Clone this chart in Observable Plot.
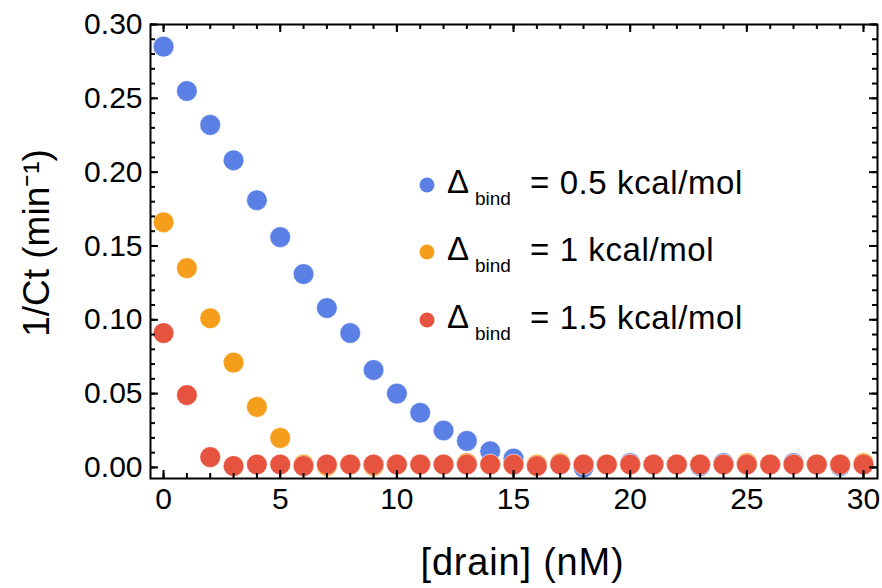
<!DOCTYPE html>
<html><head><meta charset="utf-8">
<script src="https://cdn.jsdelivr.net/npm/d3@7"></script>
<script src="https://cdn.jsdelivr.net/npm/@observablehq/plot@0.6"></script>
<style>
body{margin:0;background:#fff;}
#wrap{position:relative;width:882px;height:588px;}
</style></head><body><div id="wrap"></div>
<script>
const drain = d3.range(0, 31);
const seriesNames = ["0.5", "1", "1.5"];
const seriesColors = ["#5A80E6", "#F59E1C", "#E6533F"];
const blue = [0.285,0.255,0.232,0.208,0.181,0.156,0.131,0.108,0.091,0.066,0.050,0.037,0.025,0.018,0.011,0.006,
  0.001,0.002,0.000,0.002,0.003,0.002,0.002,0.001,0.003,0.002,0.002,0.003,0.002,0.001,0.002];
const orange = [0.166,0.135,0.101,0.071,0.041,0.020,0.002,0.001,0.002,0.001,0.002,0.002,0.002,0.003,0.002,0.002,
  0.002,0.003,0.002,0.002,0.002,0.002,0.002,0.002,0.002,0.003,0.002,0.002,0.002,0.002,0.003];
const red = [0.091,0.049,0.007,0.001,0.002,0.002,0.001,0.002,0.002,0.002,0.002,0.002,0.002,0.002,0.002,0.002,
  0.001,0.002,0.002,0.002,0.002,0.002,0.002,0.002,0.002,0.002,0.002,0.002,0.002,0.002,0.002];
const xMajor = [0,5,10,15,20,25,30];
const xMinor = d3.range(0, 31);
const yMajor = [0,0.05,0.10,0.15,0.20,0.25,0.30];
const yMinor = d3.range(0, 31).map(d => d / 100);
const xLabel = "[drain] (nM)";
const yLabel = "1/Ct (min\u207B\u00B9)";

const values = [blue, orange, red];
const data = [];
values.forEach((arr, s) => arr.forEach((v, i) => data.push({x: drain[i], y: v, s: seriesNames[s]})));

const W = 882, H = 588, mL = 150, mR = 5, mT = 24, mB = 110;
const fw = W - mL - mR, fh = H - mT - mB;
const font = "'Liberation Sans', Arial, Helvetica, sans-serif";
const tickStyle = {stroke: "#000", strokeWidth: 2};
const plot = Plot.plot({
  width: W, height: H,
  marginLeft: mL, marginRight: mR, marginTop: mT, marginBottom: mB,
  style: {fontFamily: font, color: "#000", background: "#fff", overflow: "visible"},
  x: {domain: [-0.56, 30.6]},
  y: {domain: [-0.0075, 0.30]},
  color: {domain: seriesNames, range: seriesColors},
  marks: [
    Plot.dot(data, {x: "x", y: "y", fill: "s", r: 10.3, stroke: "white", strokeWidth: 0.7, strokeOpacity: 0.6}),
    Plot.frame({stroke: "#000", strokeWidth: 2}),
    Plot.axisX({ticks: xMajor, tickSize: 0, tickPadding: 9, fontSize: 30, label: null}),
    Plot.axisY({ticks: yMajor, tickSize: 0, tickPadding: 8, fontSize: 30, tickFormat: d3.format(".2f"), label: null}),
    // inward ticks on all four sides
    Plot.ruleX(xMajor, {x: d => d, insetTop: fh - 8, ...tickStyle}),
    Plot.ruleX(xMinor, {x: d => d, insetTop: fh - 5, ...tickStyle}),
    Plot.ruleX(xMajor, {x: d => d, insetBottom: fh - 8, ...tickStyle}),
    Plot.ruleX(xMinor, {x: d => d, insetBottom: fh - 5, ...tickStyle}),
    Plot.ruleY(yMajor, {y: d => d, insetRight: fw - 8, ...tickStyle}),
    Plot.ruleY(yMinor, {y: d => d, insetRight: fw - 5, ...tickStyle}),
    Plot.ruleY(yMajor, {y: d => d, insetLeft: fw - 8, ...tickStyle}),
    Plot.ruleY(yMinor, {y: d => d, insetLeft: fw - 5, ...tickStyle})
  ]
});
document.getElementById("wrap").appendChild(plot);

const svg = d3.select(plot);
const xr = plot.scale("x").range, yr = plot.scale("y").range;
const cx = (xr[0] + xr[1]) / 2, cy = (yr[0] + yr[1]) / 2;
const labels = svg.append("g").attr("font-family", font).attr("fill", "#000").attr("text-anchor", "middle").attr("font-size", 38);
labels.append("text").attr("x", cx + 9).attr("y", yr[0] + 97).attr("letter-spacing", 0.8).text(xLabel);
labels.append("text").attr("font-size", 37).attr("transform", `translate(${xr[0] - 101},${cy - 8}) rotate(-90)`).text(yLabel);

// legend
const leg = svg.append("g").attr("font-family", font).attr("fill", "#000").attr("text-anchor", "start");
const rowY = [185, 252, 320];
seriesNames.forEach((name, i) => {
  const g = leg.append("g").attr("transform", `translate(0,${rowY[i]})`);
  g.append("circle").attr("cx", 427).attr("cy", 0).attr("r", 7.5).attr("fill", seriesColors[i]);
  g.append("text").attr("x", 447).attr("y", 8).attr("font-size", 33).text("\u0394");
  g.append("text").attr("x", 475).attr("y", 20).attr("font-size", 19).text("bind");
  g.append("text").attr("x", 530).attr("y", 9).attr("font-size", 33).attr("letter-spacing", 0.6).text(`= ${name} kcal/mol`);
});
</script>
</body></html>
